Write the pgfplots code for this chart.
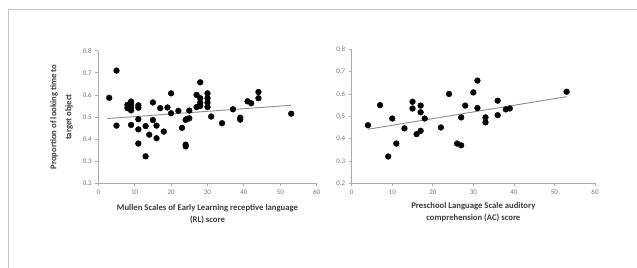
\documentclass[border=0pt]{standalone}
\usepackage{fontspec}
\setmainfont{Carlito}
\usepackage{pgfplots}
\pgfplotsset{compat=1.18}
\definecolor{axgray}{HTML}{ABABAB}
\definecolor{tickgray}{HTML}{737373}
\definecolor{labgray}{HTML}{3A3A3A}
\definecolor{framegray}{HTML}{C4C4C4}
\definecolor{trendgray}{HTML}{8C8C8C}
\begin{document}
\begin{tikzpicture}
\path[use as bounding box] (0bp,0bp) rectangle (637bp,268bp);
\draw[framegray, line width=0.8bp] (8bp,0bp) -- (8bp,259bp) -- (637bp,259bp);
\pgfplotsset{myax/.style={
  scale only axis, axis lines*=left,
  xmin=0, xmax=60, ymin=0.2, ymax=0.8,
  xtick={0,10,20,30,40,50,60},
  ytick={0.2,0.3,0.4,0.5,0.6,0.7,0.8},
  yticklabel style={/pgf/number format/fixed, /pgf/number format/precision=1, /pgf/number format/fixed zerofill},
  /pgf/number format/assume math mode=true,
  tick align=outside, tick pos=left,
  major tick length=3bp,
  axis line style={axgray, line width=0.8bp},
  tick style={axgray, line width=0.8bp},
  ticklabel style={font=\fontsize{7}{8}\selectfont, text=tickgray},
  label style={font=\fontsize{8.7}{12}\bfseries\selectfont, text=labgray, align=center},
  clip=false,
}}
\pgfplotsset{dots/.style={only marks, mark=*, mark size=2.9bp, mark options={fill=black, draw=black}}}
\begin{axis}[myax, at={(98.3bp,84.7bp)}, anchor=south west, width=218.4bp, height=132.6bp,
  xlabel={Mullen Scales of Early Learning receptive language\\(RL) score},
  xlabel style={at={(axis description cs:0.5,0)}, anchor=north, yshift=-18bp},
  ylabel={Proportion of looking time to\\target object},
  ylabel style={at={(axis description cs:0,0.5)}, anchor=south, yshift=22bp, font=\fontsize{8.7}{15}\bfseries\selectfont},
]
\addplot[trendgray, line width=0.9bp] coordinates {(2.5,0.493) (53,0.553)};
\addplot[dots] coordinates {
(3,0.587) (5,0.71) (5,0.461) (8,0.555) (8,0.54) (9,0.57) (9,0.56) (9,0.53) (9,0.545) (9,0.464)
(11,0.553) (11,0.542) (11,0.49) (11,0.444) (11,0.38) (13,0.459) (13,0.322) (14,0.42)
(15,0.566) (15,0.486) (16,0.461) (16,0.404) (17,0.54) (18,0.434) (19,0.543) (20,0.607) (20,0.517)
(22,0.528) (23,0.451) (24,0.487) (24,0.375) (24,0.367) (25,0.494) (24.5,0.492) (25,0.529)
(27,0.6) (27,0.545) (28,0.657) (28,0.585) (28,0.565) (28,0.55)
(30,0.607) (30,0.585) (30,0.565) (30,0.545) (31,0.502) (34,0.472) (37,0.535)
(39,0.497) (39,0.488) (41,0.571) (42,0.562) (44,0.613) (44,0.585) (53,0.515)
};
\end{axis}
\begin{axis}[myax, at={(351.7bp,84.7bp)}, anchor=south west, width=243.3bp, height=134bp,
  xlabel={Preschool Language Scale auditory\\comprehension (AC) score},
  xlabel style={at={(axis description cs:0.5,0)}, anchor=north, yshift=-16bp},
]
\addplot[trendgray, line width=0.9bp] coordinates {(4,0.442) (53,0.588)};
\addplot[dots] coordinates {
(4,0.46) (7,0.55) (9,0.32) (10,0.49) (11,0.378) (13,0.446) (15,0.565) (15,0.535) (16,0.42) (17,0.435)
(17,0.548) (17,0.518) (18,0.49) (22,0.45) (24,0.6) (26,0.378) (27,0.37) (27,0.495) (28,0.548)
(30,0.607) (31,0.66) (31,0.537) (33,0.495) (33,0.473) (36,0.57) (36,0.505) (38,0.531) (39,0.535) (53,0.61)
};
\end{axis}
\end{tikzpicture}
\end{document}
